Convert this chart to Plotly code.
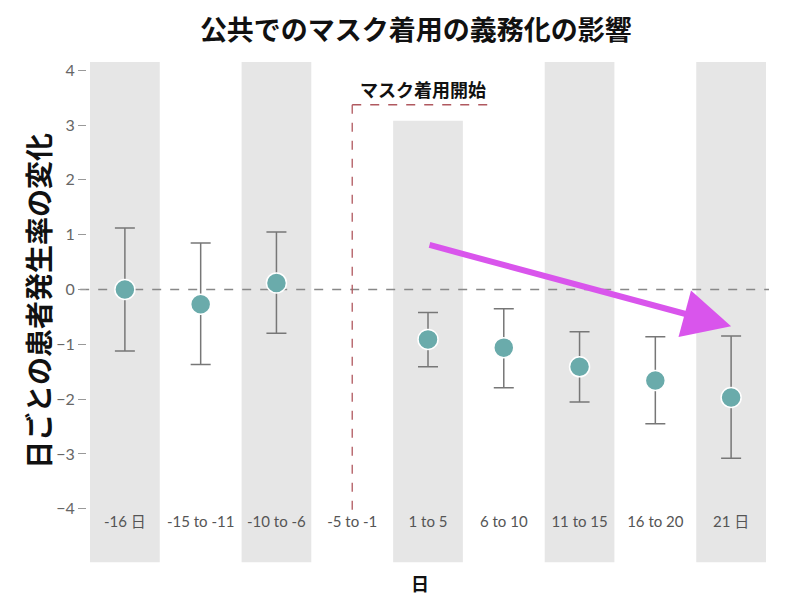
import plotly.graph_objects as go

# data
periods = ["-16 日", "-15 to -11", "-10 to -6", "-5 to -1", "1 to 5",
           "6 to 10", "11 to 15", "16 to 20", "21 日"]
estimate = [0.0, -0.27, 0.12, None, -0.91, -1.06, -1.41, -1.66, -1.97]
upper = [1.12, 0.85, 1.05, None, -0.42, -0.35, -0.77, -0.86, -0.85]
lower = [-1.12, -1.37, -0.80, None, -1.41, -1.79, -2.05, -2.45, -3.08]
y_ticks = [-4, -3, -2, -1, 0, 1, 2, 3, 4]

mask_start = "-5 to -1"
mask_label = "マスク着用開始"
trend_from = ("1 to 5", 0.82)
trend_to = ("21 日", -0.67)

FONT = "Lato, 'Noto Sans CJK JP', sans-serif"
BOLD = "'Noto Sans CJK JP', sans-serif"
BAND = "#e6e6e6"

err_plus = [None if e is None else u - e for e, u in zip(estimate, upper)]
err_minus = [None if e is None else e - l for e, l in zip(estimate, lower)]

fig = go.Figure()

# alternating grey bands
for i, p in enumerate(periods):
    if i % 2:
        continue
    top = 0.869 if p == "1 to 5" else 1.0
    fig.add_shape(type="rect", xref="x", yref="paper", x0=i - 0.46, x1=i + 0.46,
                  y0=-0.114, y1=top, fillcolor=BAND, line_width=0, layer="below")

# zero reference
fig.add_shape(type="line", xref="paper", yref="y", x0=-0.01, x1=1, y0=0, y1=0,
              line=dict(color="#888888", width=1.3, dash="dash"), layer="below")

# mask start bracket
m = periods.index(mask_start)
fig.add_shape(type="line", xref="x", yref="y", x0=m, x1=m, y0=3.37, y1=-4.04,
              line=dict(color="#b0585f", width=1.3, dash="dash"))
fig.add_shape(type="line", xref="x", yref="y", x0=m, x1=m + 1.86, y0=3.37, y1=3.37,
              line=dict(color="#b0585f", width=1.3, dash="dash"))
fig.add_annotation(x=m + 0.93, y=3.66, xref="x", yref="y", text=mask_label,
                   showarrow=False,
                   font=dict(family=BOLD, size=18, color="#111111", weight="bold"))

fig.add_trace(go.Scatter(
    x=periods, y=estimate, mode="markers",
    marker=dict(size=20, color="#6aabab", line=dict(color="white", width=1.5)),
    error_y=dict(type="data", symmetric=False, array=err_plus, arrayminus=err_minus,
                 color="#777777", thickness=1.5, width=10),
    showlegend=False, hoverinfo="skip",
))

# hand-drawn trend arrow
fig.add_annotation(x=trend_to[0], y=trend_to[1], ax=trend_from[0], ay=trend_from[1],
                   xref="x", yref="y", axref="x", ayref="y", text="", showarrow=True,
                   arrowhead=2, arrowsize=1.6, arrowwidth=6, arrowcolor="#d955ec")

fig.add_annotation(x=-0.072, y=0.468, xref="paper", yref="paper",
                   xanchor="center", yanchor="middle",
                   text="日ごとの患者発生率の変化", textangle=-90, showarrow=False,
                   font=dict(family=BOLD, size=28, color="#111111", weight="bold"))
fig.add_annotation(x=0.488, y=-0.16, xref="paper", yref="paper", text="日",
                   xanchor="center", yanchor="middle", showarrow=False,
                   font=dict(family=BOLD, size=18, color="#111111", weight="bold"))

fig.update_layout(
    width=792, height=592,
    paper_bgcolor="white", plot_bgcolor="white",
    margin=dict(l=79, r=31, t=54, b=89),
    title=dict(text="公共でのマスク着用の義務化の影響", x=0.515, xanchor="center",
               y=0.962, yanchor="middle",
               font=dict(family=BOLD, size=27, color="#111111", weight="bold")),
    xaxis=dict(type="category", categoryorder="array", categoryarray=periods,
               range=[-0.5, 8.5], showgrid=False, zeroline=False, showline=False,
               ticks="", tickfont=dict(family=FONT, size=15, color="#555555")),
    yaxis=dict(range=[-4.04, 4.15], tickvals=y_ticks, showgrid=False, zeroline=False,
               showline=False, ticks="outside", ticklen=8, tickcolor="#999999",
               tickfont=dict(family=FONT, size=16, color="#666666")),
)

fig.write_html("out.html")
